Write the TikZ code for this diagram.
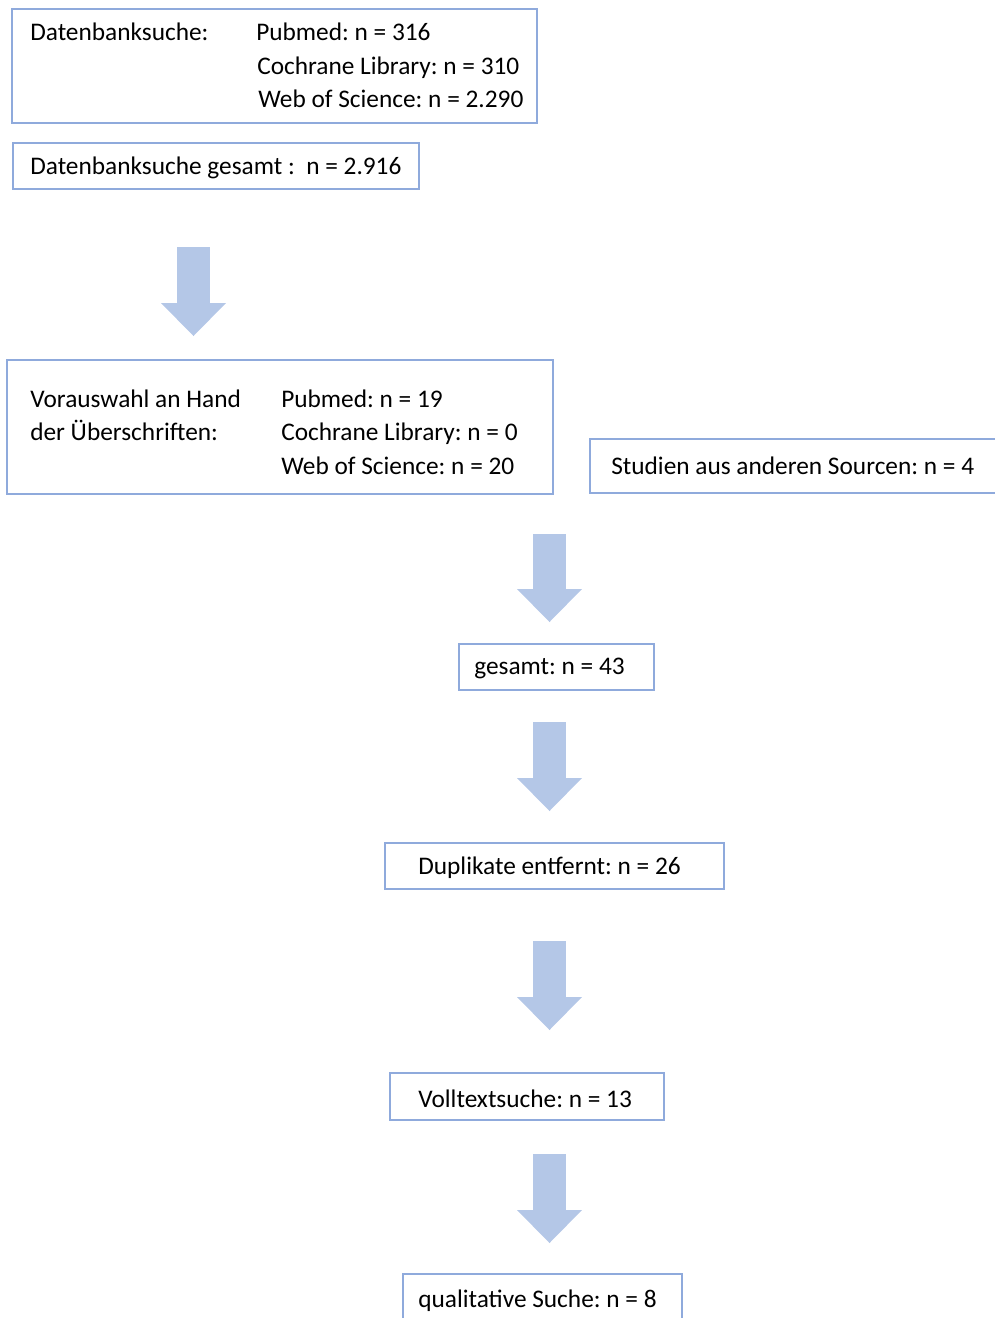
\documentclass[tikz,border=0pt]{standalone}
\usepackage{fontspec}
\setmainfont{Carlito}
\usetikzlibrary{arrows.meta}
\definecolor{boxline}{HTML}{8FAADC}
\definecolor{arrowfill}{HTML}{B4C7E7}
\frenchspacing

\begin{document}
\begin{tikzpicture}[x=0.75pt,y=-0.75pt,
    box/.style={draw=boxline,line width=1.5pt,inner sep=0pt},
    lbl/.style={inner sep=0pt,anchor=base west,font=\fontsize{19}{23}\selectfont},
    flow/.style={draw=arrowfill,line width=24.75pt,-{Triangle[width=48.75pt,length=24.75pt,line width=0pt]}}]
    \useasboundingbox (0,0) rectangle (995,1318);
    \clip (0,0) rectangle (995,1318);

    % boxes
    \node[box,minimum width=393.75pt,minimum height=85.5pt] (search) at (274.5,66) {};
    \node[box,minimum width=304.5pt,minimum height=34.5pt] (total) at (216,166) {};
    \node[box,minimum width=409.5pt,minimum height=100.5pt] (presel) at (280,427) {};
    \node[box,minimum width=311.25pt,minimum height=40.5pt] (other) at (797.5,466) {};
    \node[box,minimum width=146.25pt,minimum height=34.5pt] (sum) at (556.5,667) {};
    \node[box,minimum width=254.25pt,minimum height=34.5pt] (dupl) at (554.5,866) {};
    \node[box,minimum width=205.5pt,minimum height=35.25pt] (full) at (527,1096.5) {};
    \node[box,minimum width=209.25pt,minimum height=42pt] (qual) at (542.5,1302) {};

    % texts
    \node[lbl] (searchl) at (30,40) {Datenbanksuche:};
    \node[lbl] (search1) at (256,40) {Pubmed: n = 316};
    \node[lbl] (search2) at (257,74) {Cochrane Library: n = 310};
    \node[lbl] (search3) at (258,107) {Web of Science: n = 2.290};
    \node[lbl] (totall) at (30,174) {Datenbanksuche gesamt :\ \ n = 2.916};
    \node[lbl] (presell) at (30,407) {Vorauswahl an Hand};
    \node[lbl] (presell2) at (30,440.5) {der Überschriften:};
    \node[lbl] (presel1) at (281,407) {Pubmed: n = 19};
    \node[lbl] (presel2) at (281,440.5) {Cochrane Library: n = 0};
    \node[lbl] (presel3) at (281,474) {Web of Science: n = 20};
    \node[lbl] (otherl) at (611,474) {Studien aus anderen Sourcen: n = 4};
    \node[lbl] (suml) at (474,674) {gesamt: n = 43};
    \node[lbl] (dupll) at (418,874) {Duplikate entfernt: n = 26};
    \node[lbl] (fulll) at (418,1107) {Volltextsuche: n = 13};
    \node[lbl] (quall) at (418,1307) {qualitative Suche: n = 8};

    % block arrows
    \coordinate (a1s) at (193.5,247);
    \coordinate (a1e) at (193.5,336);
    \coordinate (a2s) at (549.5,534);
    \coordinate (a2e) at (549.5,622);
    \coordinate (a3s) at (549.5,722);
    \coordinate (a3e) at (549.5,811);
    \coordinate (a4s) at (549.5,941);
    \coordinate (a4e) at (549.5,1030);
    \coordinate (a5s) at (549.5,1154);
    \coordinate (a5e) at (549.5,1243);
    \draw[flow] (a1s) -- (a1e);
    \draw[flow] (a2s) -- (a2e);
    \draw[flow] (a3s) -- (a3e);
    \draw[flow] (a4s) -- (a4e);
    \draw[flow] (a5s) -- (a5e);
\end{tikzpicture}
\end{document}
